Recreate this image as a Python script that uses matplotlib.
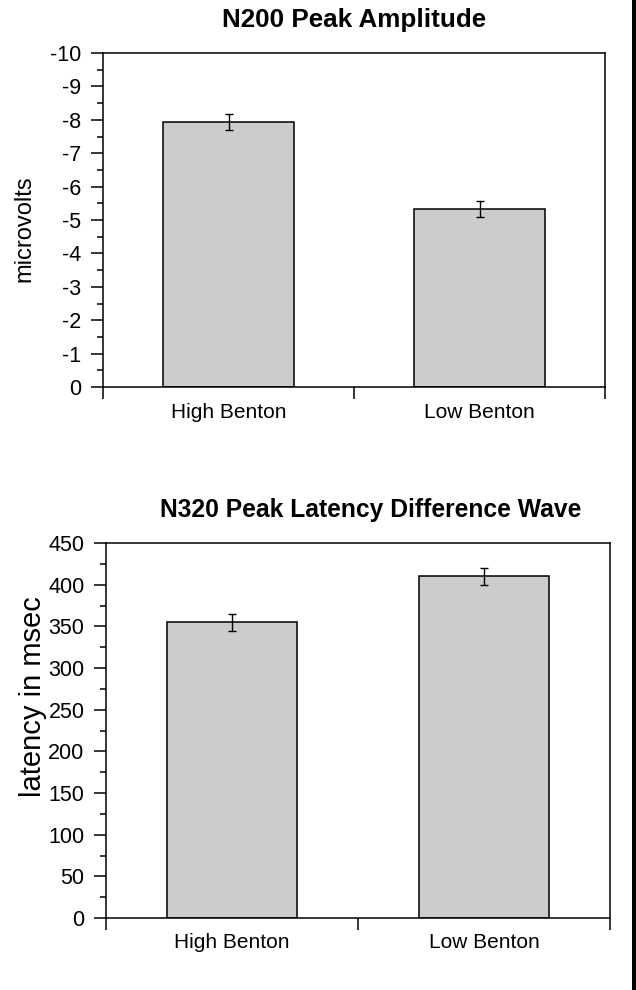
import matplotlib
matplotlib.use("Agg")
import matplotlib.pyplot as plt
from matplotlib.patches import Rectangle
from matplotlib.ticker import MultipleLocator, FixedLocator, NullFormatter, FixedFormatter, FuncFormatter

plt.rcParams['font.family'] = ['Liberation Sans', 'DejaVu Sans']
plt.rcParams['axes.unicode_minus'] = False

categories = ["High Benton", "Low Benton"]
amp_values = [-7.93, -5.33]
amp_errors = [0.23, 0.23]
lat_values = [355, 410]
lat_errors = [10, 10]

title_top = "N200 Peak Amplitude"
title_bottom = "N320 Peak Latency Difference Wave"
ylabel_top = "microvolts"
ylabel_bottom = "latency in msec"

fig = plt.figure(figsize=(6.36, 9.9), dpi=100)
ax1 = fig.add_axes([103/636, 1-387/990, (605-103)/636, (387-53)/990])
ax2 = fig.add_axes([106/636, 1-918/990, (610-106)/636, (918-543)/990])

LW = 1.1

def style(ax, major, minor, xpad):
    x = list(range(len(categories)))
    ax.set_xlim(-0.5, len(categories) - 0.5)
    ax.xaxis.set_major_locator(FixedLocator([i - 0.5 for i in range(len(categories) + 1)]))
    ax.xaxis.set_major_formatter(NullFormatter())
    ax.xaxis.set_minor_locator(FixedLocator(x))
    ax.xaxis.set_minor_formatter(FixedFormatter(categories))
    ax.tick_params(axis='x', which='major', direction='out', length=8.5, width=LW)
    ax.tick_params(axis='x', which='minor', length=0, pad=xpad, labelsize=15.0)
    ax.yaxis.set_major_locator(MultipleLocator(major))
    ax.yaxis.set_minor_locator(MultipleLocator(minor))
    ax.yaxis.set_major_formatter(FuncFormatter(lambda v, p: "%d" % round(v)))
    ax.tick_params(axis='y', which='major', direction='out', length=8.3, width=LW, labelsize=15.5, pad=7.2)
    ax.tick_params(axis='y', which='minor', direction='out', length=4.3, width=LW)
    for s in ax.spines.values():
        s.set_linewidth(LW)

x = list(range(len(categories)))
ax1.bar(x, amp_values, width=0.52, color='#cccccc', edgecolor='black', linewidth=LW, zorder=2)
ax1.errorbar(x, amp_values, yerr=amp_errors, fmt='none', ecolor='black', elinewidth=1.0, capsize=2.9, capthick=1.0, zorder=3)
ax1.set_ylim(0, -10)
style(ax1, 1, 0.5, 11.5)

ax2.bar(x, lat_values, width=0.515, color='#cccccc', edgecolor='black', linewidth=LW, zorder=2)
ax2.errorbar(x, lat_values, yerr=lat_errors, fmt='none', ecolor='black', elinewidth=1.0, capsize=2.9, capthick=1.0, zorder=3)
ax2.set_ylim(0, 450)
style(ax2, 50, 25, 10.5)

fig.text(354.5/636, 1-20/990, title_top, ha='center', va='center', fontsize=18.7, fontweight='bold')
fig.text(371/636, 1-510/990, title_bottom, ha='center', va='center', fontsize=17.7, fontweight='bold')

fig.text(24.5/636, 1-229/990, ylabel_top, ha='center', va='center', rotation=90, fontsize=17)
fig.text(33/636, 1-697/990, ylabel_bottom, ha='center', va='center', rotation=90, fontsize=21)

fig.add_artist(Rectangle((632/636, 0), 4/636, 1, transform=fig.transFigure, color='black', lw=0))

fig.savefig("out.png", dpi=100)
